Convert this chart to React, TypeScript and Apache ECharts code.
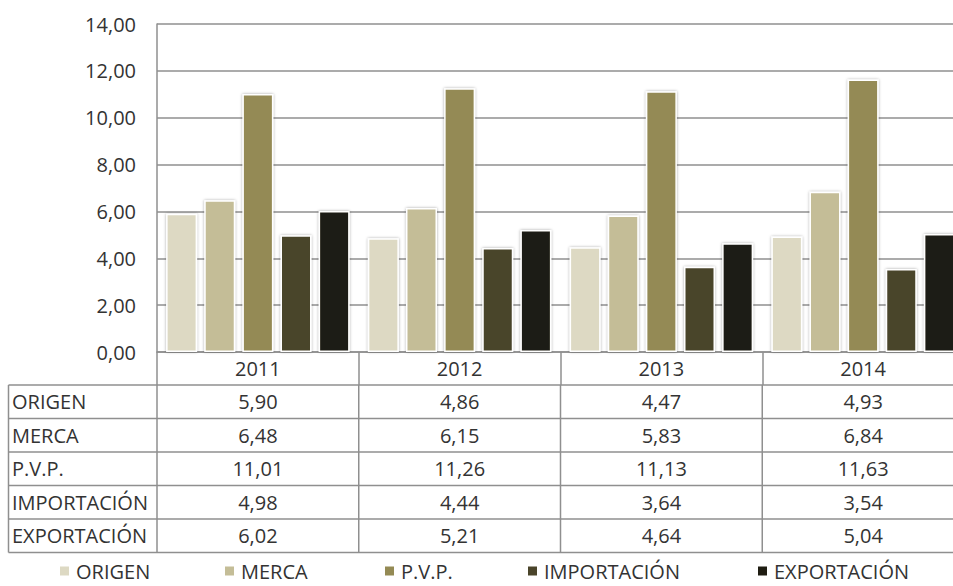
import React, { useEffect, useRef } from "react";
import * as echarts from "echarts";

const years = ["2011", "2012", "2013", "2014"];
const seriesNames = ["ORIGEN", "MERCA", "P.V.P.", "IMPORTACIÓN", "EXPORTACIÓN"];
const origen = [5.9, 4.86, 4.47, 4.93];
const merca = [6.48, 6.15, 5.83, 6.84];
const pvp = [11.01, 11.26, 11.13, 11.63];
const importacion = [4.98, 4.44, 3.64, 3.54];
const exportacion = [6.02, 5.21, 4.64, 5.04];
const seriesValues = [origen, merca, pvp, importacion, exportacion];
const colors = ["#DDD9C3", "#C4BD97", "#948A54", "#4A442A", "#1F1D12"];
const legendLeft = [58, 223, 383, 526, 756];

const FONT = "'Open Sans', sans-serif";
const FS = 20;
const TXT = "#333333";
const LINE = "#8f8f8f";
const fmt = (v: number) => v.toFixed(2).replace(".", ",");

export default function App() {
  const ref = useRef<HTMLDivElement>(null);
  useEffect(() => {
    const chart = echarts.init(ref.current!, null, { renderer: "svg" });
    const option: any = {
      animation: false,
      backgroundColor: "#ffffff",
      textStyle: { fontFamily: FONT },
      grid: { left: 157, right: 0, top: 24, bottom: 234, containLabel: false },
      xAxis: {
        type: "category",
        data: years,
        axisLine: { show: true, lineStyle: { color: LINE, width: 1.5 } },
        axisTick: { show: true, length: 33, lineStyle: { color: LINE, width: 1.5 } },
        axisLabel: { color: TXT, fontSize: FS, fontFamily: FONT, margin: 6 },
      },
      yAxis: {
        type: "value",
        min: 0,
        max: 14,
        interval: 2,
        axisLine: { show: true, lineStyle: { color: LINE, width: 1.5 } },
        axisTick: { show: false },
        splitLine: { show: true, lineStyle: { color: LINE, width: 1.5 } },
        axisLabel: {
          color: TXT,
          fontSize: FS,
          fontFamily: FONT,
          margin: 21,
          formatter: (v: number) => fmt(v),
        },
      },
      legend: seriesNames.map((n, i) => ({
        data: [n],
        left: legendLeft[i],
        top: 561,
        padding: 0,
        icon: "rect",
        itemWidth: 11,
        itemHeight: 11,
        itemGap: 0,
        selectedMode: false,
        textStyle: { color: TXT, fontSize: FS, fontFamily: FONT, padding: [0, 0, 0, 1] },
      })),
      series: seriesNames.map((n, i) => ({
        name: n,
        type: "bar",
        data: seriesValues[i],
        barWidth: 31,
        barGap: "23%",
        itemStyle: {
          color: colors[i],
          borderColor: "#ffffff",
          borderWidth: 1.5,
          shadowColor: "rgba(0,0,0,0.35)",
          shadowBlur: 3,
        },
      })),
    };
    chart.setOption(option);

    const c0 = chart.convertToPixel({ xAxisIndex: 0 }, 0) as number;
    const c1 = chart.convertToPixel({ xAxisIndex: 0 }, 1) as number;
    const bw = c1 - c0;
    const rowTop = 385;
    const rowH = 33.5;
    const leftX = 8.5;
    const gridLeft = 157;
    const elements: any[] = [];
    for (let r = 0; r <= seriesNames.length; r++) {
      const y = rowTop + r * rowH;
      elements.push({
        type: "line",
        shape: { x1: leftX, y1: y, x2: 990, y2: y },
        style: { stroke: LINE, lineWidth: 1.5 },
      });
    }
    const bottomY = rowTop + seriesNames.length * rowH;
    const vx = [leftX, gridLeft];
    years.forEach((_, i) => {
      const c = chart.convertToPixel({ xAxisIndex: 0 }, i) as number;
      vx.push(c + bw / 2);
    });
    vx.forEach((x) =>
      elements.push({
        type: "line",
        shape: { x1: x, y1: rowTop, x2: x, y2: bottomY },
        style: { stroke: LINE, lineWidth: 1.5 },
      })
    );
    seriesNames.forEach((n, r) => {
      const cy = rowTop + r * rowH + rowH / 2;
      elements.push({
        type: "text",
        x: 12,
        y: cy,
        style: {
          text: n,
          fill: TXT,
          font: `${FS}px ${FONT}`,
          textAlign: "left",
          textVerticalAlign: "middle",
        },
      });
      years.forEach((_, i) => {
        const c = chart.convertToPixel({ xAxisIndex: 0 }, i) as number;
        elements.push({
          type: "text",
          x: c,
          y: cy,
          style: {
            text: fmt(seriesValues[r][i]),
            fill: TXT,
            font: `${FS}px ${FONT}`,
            textAlign: "center",
            textVerticalAlign: "middle",
          },
        });
      });
    });
    chart.setOption({ graphic: { elements } });
    return () => chart.dispose();
  }, []);
  return (
    <div
      style={{
        position: "fixed",
        left: 0,
        top: 0,
        width: 953,
        height: 586,
        overflow: "hidden",
        background: "#fff",
      }}
    >
      <div ref={ref} style={{ width: 964, height: 586 }} />
    </div>
  );
}
